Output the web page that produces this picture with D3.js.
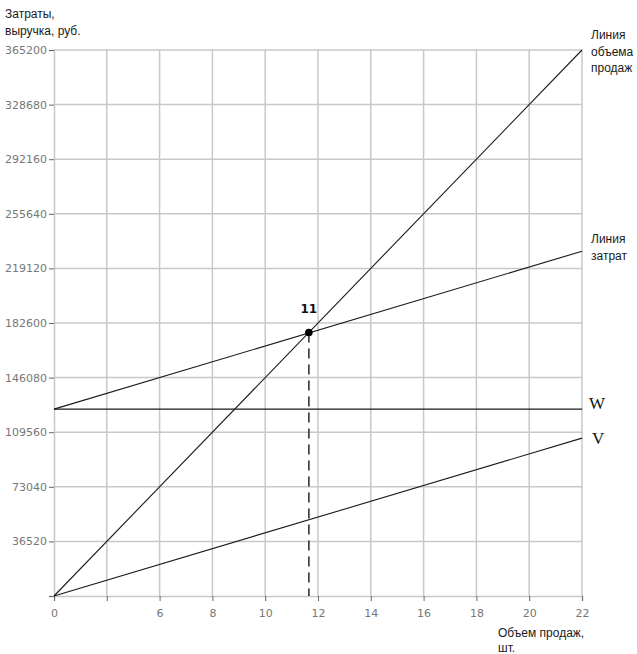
<!DOCTYPE html>
<html><head><meta charset="utf-8">
<script src="https://cdn.jsdelivr.net/npm/d3@7"></script>
<style>
body{margin:0;background:#fff;}
svg{display:block;}
.lbl{font-family:Arial,"Liberation Sans",sans-serif;font-size:12px;fill:#1a1a1a;}
.tick text{font-family:"DejaVu Sans",Verdana,sans-serif;font-size:11px;fill:#777;}
</style></head>
<body>
<script>
// Data
const xTickLabels = ["0","","6","8","10","12","14","16","18","20","22"];
const yTickValues = [0,36520,73040,109560,146080,182600,219120,255640,292160,328680,365200];
const yTickLabels = ["","36520","73040","109560","146080","182600","219120","255640","292160","328680","365200"];
const qRange = [0, 22];
const revenueValues = [0, 365200];      // Линия объема продаж
const costValues = [125000, 230600];    // Линия затрат
const fixedValues = [125000, 125000];   // W
const variableValues = [0, 105600];     // V
const breakEvenQ = 10.62;
const breakEvenLabel = "11";

const W = 637, H = 654;
const m = {left:54, right:582, top:50, bottom:596};

const svg = d3.select("body").append("svg").attr("width",W).attr("height",H);

const x = d3.scaleLinear().domain([0,22]).range([m.left,m.right]);
const y = d3.scaleLinear().domain([0,365200]).range([m.bottom,m.top]);
const xTickScale = d3.scalePoint().domain(d3.range(xTickLabels.length)).range([m.left,m.right]);

// grid
const g = svg.append("g");
g.selectAll(".vg").data(d3.range(1,xTickLabels.length)).join("line")
  .attr("x1",d=>xTickScale(d)).attr("x2",d=>xTickScale(d))
  .attr("y1",m.top).attr("y2",m.bottom).attr("stroke","#c8c8c8").attr("stroke-width",1.5);
g.selectAll(".hg").data(yTickValues.slice(1)).join("line")
  .attr("x1",m.left).attr("x2",m.right)
  .attr("y1",d=>y(d)).attr("y2",d=>y(d)).attr("stroke","#c8c8c8").attr("stroke-width",1.5);

// axes
const yAxis = d3.axisLeft(y).tickValues(yTickValues).tickFormat((d,i)=>yTickLabels[i]).tickSize(5).tickPadding(2);
const ya = svg.append("g").attr("transform",`translate(${m.left},0)`).call(yAxis);
const xAxis = d3.axisBottom(xTickScale).tickFormat(i=>xTickLabels[i]).tickSize(5).tickPadding(8);
const xa = svg.append("g").attr("transform",`translate(0,${m.bottom})`).call(xAxis);
[ya,xa].forEach(a=>{
  a.select(".domain").attr("stroke","#c8c8c8").attr("stroke-width",1.5);
  a.selectAll(".tick line").attr("stroke","#666");
});

// lines
const lines = [revenueValues, costValues, fixedValues, variableValues];
svg.selectAll(".ln").data(lines).join("line")
  .attr("x1",x(qRange[0])).attr("x2",x(qRange[1]))
  .attr("y1",d=>y(d[0])).attr("y2",d=>y(d[1]))
  .attr("stroke","#1a1a1a").attr("stroke-width",1.1);

// break-even
const beY = revenueValues[1]/qRange[1]*breakEvenQ;
svg.append("line").attr("x1",x(breakEvenQ)).attr("x2",x(breakEvenQ))
  .attr("y1",y(beY)).attr("y2",y(0))
  .attr("stroke","#333").attr("stroke-width",1.6).attr("stroke-dasharray","10,6");
svg.append("circle").attr("cx",x(breakEvenQ)).attr("cy",y(beY)).attr("r",3.8).attr("fill","#000");
svg.append("text").attr("x",x(breakEvenQ)).attr("y",y(beY)-19).attr("text-anchor","middle")
  .style("font-family","'DejaVu Sans',Verdana,sans-serif").style("font-weight","bold").style("font-size","12px")
  .attr("fill","#111").text(breakEvenLabel);

// labels
function multi(txt, xx, yy, lh){
  const t = svg.append("text").attr("class","lbl").attr("x",xx).attr("y",yy);
  txt.forEach((s,i)=>t.append("tspan").attr("x",xx).attr("dy",i?lh:0).text(s));
}
multi(["Затраты,","выручка, руб."], 5, 18, 17);
multi(["Линия","объема","продаж"], 591, 39, 16.5);
multi(["Линия","затрат"], 591, 243, 16.5);
multi(["Объем продаж,","шт."], 498, 637, 15);
svg.append("text").attr("x",589).attr("y",409).style("font-family","'Liberation Serif','Times New Roman',serif")
  .style("font-size","17px").attr("fill","#111").text("W");
svg.append("text").attr("x",592).attr("y",444).style("font-family","'Liberation Serif','Times New Roman',serif")
  .style("font-size","17px").attr("fill","#111").text("V");
</script>
</body></html>
